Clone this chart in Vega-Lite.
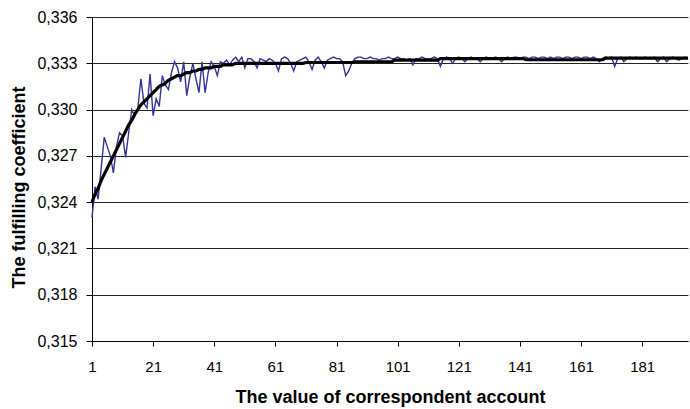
{
  "$schema": "https://vega.github.io/schema/vega-lite/v6.json",
  "width": 596,
  "height": 324,
  "autosize": "none",
  "padding": {"left": 92, "top": 17, "right": 2, "bottom": 68},
  "background": "white",
  "config": {
    "view": {"stroke": null},
    "font": "Liberation Sans",
    "axis": {
      "labelFont": "Liberation Sans",
      "titleFont": "Liberation Sans",
      "labelColor": "black",
      "titleColor": "black",
      "domainColor": "black",
      "tickColor": "black"
    }
  },
  "data": {
    "values": [
      {"n":1,"k":0.3230,"t":0.3240},{"n":2,"k":0.3250,"t":0.3245},{"n":3,"k":0.3242,"t":0.3249},{"n":4,"k":0.3262,"t":0.3254},{"n":5,"k":0.3282,"t":0.3258},
      {"n":6,"k":0.3276,"t":0.3262},{"n":7,"k":0.3270,"t":0.3266},{"n":8,"k":0.3259,"t":0.3270},{"n":9,"k":0.3276,"t":0.3274},{"n":10,"k":0.3285,"t":0.3278},
      {"n":11,"k":0.3283,"t":0.3282},{"n":12,"k":0.3269,"t":0.3286},{"n":13,"k":0.3285,"t":0.3290},{"n":14,"k":0.3300,"t":0.3293},{"n":15,"k":0.3296,"t":0.3297},
      {"n":16,"k":0.3301,"t":0.3300},{"n":17,"k":0.3320,"t":0.3303},{"n":18,"k":0.3304,"t":0.3305},{"n":19,"k":0.3301,"t":0.3307},{"n":20,"k":0.3323,"t":0.3309},
      {"n":21,"k":0.3296,"t":0.3311},{"n":22,"k":0.3307,"t":0.3313},{"n":23,"k":0.3302,"t":0.3315},{"n":24,"k":0.3322,"t":0.3316},{"n":25,"k":0.3316,"t":0.3317},
      {"n":26,"k":0.3313,"t":0.3319},{"n":27,"k":0.3324,"t":0.3320},{"n":28,"k":0.3331,"t":0.3321},{"n":29,"k":0.3327,"t":0.3322},{"n":30,"k":0.3318,"t":0.3322},
      {"n":31,"k":0.3331,"t":0.3323},{"n":32,"k":0.3309,"t":0.3324},{"n":33,"k":0.3321,"t":0.3324},{"n":34,"k":0.3330,"t":0.3325},{"n":35,"k":0.3320,"t":0.3325},
      {"n":36,"k":0.3311,"t":0.3326},{"n":37,"k":0.3331,"t":0.3326},{"n":38,"k":0.3311,"t":0.3327},{"n":39,"k":0.3324,"t":0.3327},{"n":40,"k":0.3331,"t":0.3327},
      {"n":41,"k":0.3328,"t":0.3328},{"n":42,"k":0.3322,"t":0.3328},{"n":43,"k":0.3331,"t":0.3328},{"n":44,"k":0.3330,"t":0.3329},{"n":45,"k":0.3332,"t":0.3329},
      {"n":46,"k":0.3329,"t":0.3329},{"n":47,"k":0.3332,"t":0.3329},{"n":48,"k":0.3334,"t":0.3330},{"n":49,"k":0.3331,"t":0.3330},{"n":50,"k":0.3334,"t":0.3330},
      {"n":51,"k":0.3327,"t":0.3330},{"n":52,"k":0.3333,"t":0.3330},{"n":53,"k":0.3333,"t":0.3330},{"n":54,"k":0.3331,"t":0.3330},{"n":55,"k":0.3327,"t":0.3330},
      {"n":56,"k":0.3333,"t":0.3330},{"n":57,"k":0.3332,"t":0.3330},{"n":58,"k":0.3331,"t":0.3330},{"n":59,"k":0.3333,"t":0.3330},{"n":60,"k":0.3332,"t":0.3330},
      {"n":61,"k":0.3330,"t":0.3330},{"n":62,"k":0.3325,"t":0.3330},{"n":63,"k":0.3333,"t":0.3330},{"n":64,"k":0.3334,"t":0.3330},{"n":65,"k":0.3333,"t":0.3330},
      {"n":66,"k":0.3330,"t":0.3330},{"n":67,"k":0.3325,"t":0.3330},{"n":68,"k":0.3331,"t":0.3330},{"n":69,"k":0.3332,"t":0.3330},{"n":70,"k":0.3333,"t":0.3330},
      {"n":71,"k":0.3334,"t":0.33305},{"n":72,"k":0.3331,"t":0.33305},{"n":73,"k":0.3326,"t":0.33305},{"n":74,"k":0.3332,"t":0.33305},{"n":75,"k":0.3334,"t":0.33305},
      {"n":76,"k":0.3331,"t":0.33305},{"n":77,"k":0.3327,"t":0.33305},{"n":78,"k":0.3332,"t":0.33305},{"n":79,"k":0.3333,"t":0.33305},{"n":80,"k":0.3334,"t":0.33305},
      {"n":81,"k":0.3333,"t":0.33305},{"n":82,"k":0.3333,"t":0.33305},{"n":83,"k":0.3331,"t":0.33305},{"n":84,"k":0.3322,"t":0.33305},{"n":85,"k":0.3325,"t":0.33305},
      {"n":86,"k":0.3330,"t":0.33305},{"n":87,"k":0.3333,"t":0.3331},{"n":88,"k":0.3334,"t":0.3331},{"n":89,"k":0.3334,"t":0.3331},{"n":90,"k":0.3333,"t":0.3331},
      {"n":91,"k":0.3333,"t":0.3331},{"n":92,"k":0.3334,"t":0.3331},{"n":93,"k":0.3333,"t":0.3331},{"n":94,"k":0.3333,"t":0.3331},{"n":95,"k":0.3332,"t":0.3331},
      {"n":96,"k":0.3333,"t":0.3331},{"n":97,"k":0.3333,"t":0.3331},{"n":98,"k":0.3334,"t":0.3331},{"n":99,"k":0.3333,"t":0.3331},{"n":100,"k":0.3333,"t":0.3332},
      {"n":101,"k":0.3334,"t":0.3332},{"n":102,"k":0.3333,"t":0.3332},{"n":103,"k":0.3333,"t":0.3332},{"n":104,"k":0.3332,"t":0.3332},{"n":105,"k":0.3333,"t":0.3332},
      {"n":106,"k":0.3329,"t":0.3332},{"n":107,"k":0.3333,"t":0.3332},{"n":108,"k":0.3333,"t":0.3332},{"n":109,"k":0.3334,"t":0.3332},{"n":110,"k":0.3333,"t":0.3332},
      {"n":111,"k":0.3333,"t":0.3332},{"n":112,"k":0.3333,"t":0.3332},{"n":113,"k":0.3334,"t":0.3332},{"n":114,"k":0.3333,"t":0.3332},{"n":115,"k":0.3328,"t":0.3333},
      {"n":116,"k":0.3333,"t":0.3333},{"n":117,"k":0.3334,"t":0.3333},{"n":118,"k":0.3333,"t":0.3333},{"n":119,"k":0.3330,"t":0.3333},{"n":120,"k":0.3333,"t":0.3333},
      {"n":121,"k":0.3334,"t":0.3333},{"n":122,"k":0.3333,"t":0.3333},{"n":123,"k":0.3331,"t":0.3333},{"n":124,"k":0.3333,"t":0.3333},{"n":125,"k":0.3334,"t":0.3333},
      {"n":126,"k":0.3333,"t":0.3333},{"n":127,"k":0.3333,"t":0.3333},{"n":128,"k":0.3331,"t":0.3333},{"n":129,"k":0.3333,"t":0.3333},{"n":130,"k":0.3334,"t":0.3333},
      {"n":131,"k":0.3333,"t":0.3333},{"n":132,"k":0.3333,"t":0.3333},{"n":133,"k":0.3334,"t":0.3333},{"n":134,"k":0.3333,"t":0.3333},{"n":135,"k":0.3331,"t":0.3333},
      {"n":136,"k":0.3333,"t":0.3333},{"n":137,"k":0.3334,"t":0.3333},{"n":138,"k":0.3333,"t":0.3333},{"n":139,"k":0.3334,"t":0.3333},{"n":140,"k":0.3334,"t":0.3333},
      {"n":141,"k":0.3333,"t":0.3333},{"n":142,"k":0.3334,"t":0.3333},{"n":143,"k":0.3334,"t":0.33323},{"n":144,"k":0.3333,"t":0.33323},{"n":145,"k":0.3334,"t":0.33323},
      {"n":146,"k":0.3334,"t":0.33323},{"n":147,"k":0.3333,"t":0.33323},{"n":148,"k":0.3334,"t":0.33323},{"n":149,"k":0.3334,"t":0.33323},{"n":150,"k":0.3333,"t":0.33323},
      {"n":151,"k":0.3334,"t":0.33323},{"n":152,"k":0.3333,"t":0.33323},{"n":153,"k":0.3334,"t":0.33323},{"n":154,"k":0.3334,"t":0.33323},{"n":155,"k":0.3333,"t":0.33323},
      {"n":156,"k":0.3334,"t":0.33323},{"n":157,"k":0.3334,"t":0.33323},{"n":158,"k":0.3333,"t":0.33323},{"n":159,"k":0.3334,"t":0.33323},{"n":160,"k":0.3334,"t":0.33323},
      {"n":161,"k":0.3333,"t":0.33323},{"n":162,"k":0.3334,"t":0.33323},{"n":163,"k":0.3334,"t":0.33323},{"n":164,"k":0.3333,"t":0.33323},{"n":165,"k":0.3334,"t":0.33323},
      {"n":166,"k":0.3333,"t":0.33323},{"n":167,"k":0.3331,"t":0.33323},{"n":168,"k":0.3333,"t":0.33323},{"n":169,"k":0.3334,"t":0.33333},{"n":170,"k":0.3333,"t":0.33333},
      {"n":171,"k":0.3334,"t":0.33333},{"n":172,"k":0.3328,"t":0.33333},{"n":173,"k":0.3333,"t":0.33333},{"n":174,"k":0.3334,"t":0.33333},{"n":175,"k":0.3331,"t":0.33333},
      {"n":176,"k":0.3333,"t":0.33333},{"n":177,"k":0.3334,"t":0.33333},{"n":178,"k":0.3333,"t":0.33333},{"n":179,"k":0.3334,"t":0.33333},{"n":180,"k":0.3333,"t":0.33333},
      {"n":181,"k":0.3333,"t":0.33333},{"n":182,"k":0.3334,"t":0.33333},{"n":183,"k":0.3333,"t":0.33333},{"n":184,"k":0.3333,"t":0.33333},{"n":185,"k":0.3334,"t":0.33333},
      {"n":186,"k":0.3331,"t":0.33333},{"n":187,"k":0.3333,"t":0.33333},{"n":188,"k":0.3334,"t":0.33333},{"n":189,"k":0.3331,"t":0.33333},{"n":190,"k":0.3333,"t":0.33333},
      {"n":191,"k":0.3334,"t":0.33333},{"n":192,"k":0.3333,"t":0.33333},{"n":193,"k":0.3332,"t":0.33333},{"n":194,"k":0.3333,"t":0.33333},{"n":195,"k":0.3334,"t":0.33333},
      {"n":196,"k":0.3333,"t":0.33333}
    ]
  },
  "encoding": {
    "x": {
      "field": "n",
      "type": "quantitative",
      "scale": {"domain": [1, 196], "nice": false, "zero": false},
      "axis": {
        "title": "The value of correspondent account",
        "titleFontSize": 18,
        "titleFontWeight": "bold",
        "titleBaseline": "middle",
        "titleY": 56,
        "values": [1, 21, 41, 61, 81, 101, 121, 141, 161, 181],
        "labelFontSize": 15,
        "labelPadding": 13,
        "tickSize": 5,
        "grid": false,
        "labelFlush": false,
        "labelOverlap": false
      }
    }
  },
  "layer": [
    {
      "mark": {"type": "line", "color": "#333399", "strokeWidth": 1.4},
      "encoding": {
        "y": {
          "field": "k",
          "type": "quantitative",
          "scale": {"domain": [0.315, 0.336], "nice": false, "zero": false},
          "axis": {
            "title": "The fulfilling coefficient",
            "titleFontSize": 18,
            "titleFontWeight": "bold",
            "titleBaseline": "middle",
            "titleX": -73,
            "titleY": 170,
            "values": [0.315, 0.318, 0.321, 0.324, 0.327, 0.330, 0.333, 0.336],
            "labelExpr": "replace(format(datum.value, '.3f'), '.', ',')",
            "labelFontSize": 16,
            "labelPadding": 9,
            "tickSize": 6,
            "grid": true,
            "gridColor": "#000000",
            "gridOpacity": 0.85,
            "labelFlush": false,
            "labelOverlap": false
          }
        }
      }
    },
    {
      "mark": {"type": "line", "color": "#000000", "strokeWidth": 3.2, "interpolate": "monotone"},
      "encoding": {
        "y": {"field": "t", "type": "quantitative"}
      }
    }
  ]
}
